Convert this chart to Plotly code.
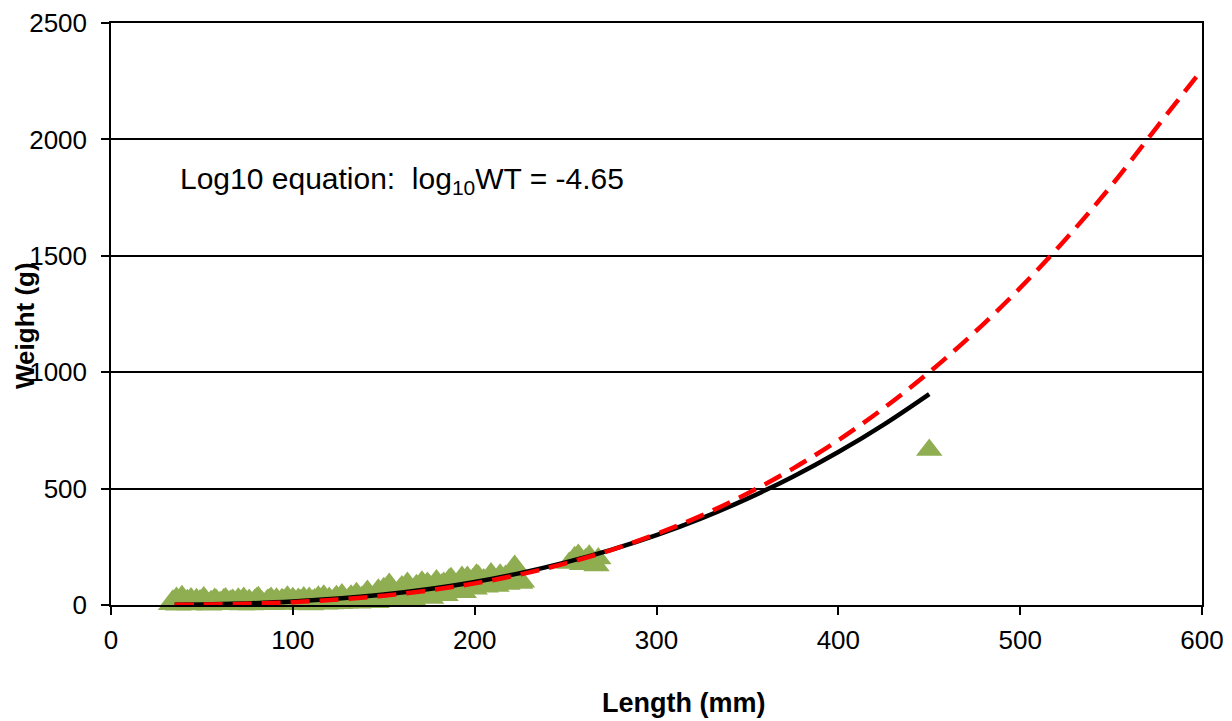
import plotly.graph_objects as go

# Observed fish (length mm, weight g)
obs_length = [33, 34, 35, 36, 37, 38, 39, 40, 41, 42, 43, 44, 45, 46, 47, 48, 49, 50, 51, 52,
              53, 54, 55, 56, 57, 58, 59, 60, 61, 62, 63, 64, 65, 66, 67, 68, 69, 70, 71, 72,
              73, 74, 75, 76, 77, 78, 79, 80, 81, 82, 83, 84, 85, 86, 87, 88, 89, 90, 91, 92,
              93, 94, 95, 96, 97, 98, 99, 100, 101, 102, 103, 104, 105, 106, 107, 108, 109, 110,
              111, 112, 113, 114, 115, 116, 117, 118, 119, 120, 121, 122, 123, 124, 125, 126,
              127, 128, 129, 130, 131, 132, 133, 134, 135, 136, 137, 138, 139, 140, 141, 142,
              143, 144, 145, 146, 147, 148, 149, 150, 151, 152, 153, 154, 155, 156, 157, 158,
              159, 160, 161, 162, 163, 164, 165, 166, 167, 168, 169, 170, 171, 172, 173, 174,
              175, 176, 177, 178, 179, 180, 181, 182, 183, 184, 185, 186, 187, 188, 189, 190,
              191, 192, 193, 194, 195, 196, 197, 198, 199, 200, 201, 202, 203, 204, 205, 206,
              207, 208, 209, 210, 211, 212, 213, 214, 215, 216, 217, 218, 219, 220, 221, 222,
              223, 224, 225, 226,
              252, 255, 257, 259, 261, 263, 265, 267, 268, 450]
obs_weight = [3, 18, 8, 30, 1, 12, 38, 5, 15, 20, 2, 28, 14, 6, 25, 4, 19, 10, 32, 22,
              8, 1, 16, 12, 26, 20, 6, 12, 4, 24, 28, 3, 14, 18, 22, 9, 6, 27, 16, 2,
              30, 15, 10, 22, 2, 6, 20, 28, 33, 11, 14, 3, 7, 20, 24, 30, 3, 8, 27, 16,
              12, 25, 20, 4, 35, 13, 6, 29, 18, 7, 26, 20, 3, 32, 14, 10, 30, 2,
              18, 24, 8, 35, 26, 12, 40, 5, 15, 30, 6, 18, 28, 38, 20, 8,
              45, 26, 10, 15, 30, 40, 18, 22, 50, 10, 25, 34, 14, 44, 60, 20,
              35, 30, 22, 12, 65, 50, 40, 72, 30, 28, 90, 45, 55, 18, 35, 58,
              70, 80, 45, 35, 95, 52, 60, 25, 40, 85, 75, 62, 100, 40, 55, 95,
              85, 30, 45, 70, 105, 50, 65, 88, 95, 42, 72, 110, 115, 75, 85, 60,
              68, 98, 120, 55, 90, 120, 75, 80, 110, 70, 130, 125, 85, 95, 110, 78,
              95, 120, 135, 105, 90, 82, 115, 130, 100, 100, 125, 90, 105, 140, 150, 168,
              120, 115, 95, 100,
              180, 205, 215, 175, 195, 212, 185, 170, 200, 666]

# Fitted curve (black, solid)
fit_length = [35, 50, 75, 100, 125, 150, 175, 200, 225, 250, 275, 300, 325, 350, 375, 400, 425, 450]
fit_weight = [0.9, 2.3, 6.9, 15, 27.6, 45, 69, 99, 137, 183, 237, 300, 373, 457, 551, 657, 775, 906]

# Log10 equation curve (red, dashed)
log_length = [35, 50, 75, 100, 125, 150, 175, 200, 225, 250, 275, 300, 325, 350, 375, 400,
              425, 450, 475, 500, 525, 550, 575, 600]
log_weight = [0.6, 1.6, 5.2, 12.2, 23.4, 40, 62.8, 93, 131, 179, 236, 305, 385, 479, 586, 708,
              846, 1000, 1172, 1362, 1571, 1800, 2051, 2300]

x_ticks = [0, 100, 200, 300, 400, 500, 600]
y_ticks = [0, 500, 1000, 1500, 2000, 2500]

FONT = "Arial, Liberation Sans, Helvetica, sans-serif"

# page body has an 8px margin; figure sized/margined so the plot area lands where the reference's does
OFF = 8
L, R, T, B = 111, 1202, 23, 605
W, H = 1232 - OFF, 721 - OFF

fig = go.Figure()
fig.add_trace(go.Scatter(
    x=obs_length, y=obs_weight, mode="markers",
    marker=dict(symbol="triangle-up", size=23, color="#8FAE52", line=dict(width=0)),
    cliponaxis=False, showlegend=False))
fig.add_trace(go.Scatter(
    x=fit_length, y=fit_weight, mode="lines", line=dict(color="#000000", width=4.5, shape="spline"),
    showlegend=False))
fig.add_trace(go.Scatter(
    x=log_length, y=log_weight, mode="lines",
    line=dict(color="#FF0000", width=4.5, dash="19px,10px", shape="spline"),
    showlegend=False))

fig.update_layout(
    width=W, height=H,
    margin=dict(l=L - OFF, r=W + OFF - R, t=T - OFF, b=H + OFF - B, pad=0, autoexpand=False),
    paper_bgcolor="white", plot_bgcolor="white",
    font=dict(family=FONT, color="#000000", size=26),
    showlegend=False,
)
fig.update_xaxes(
    range=[0, 600], tickvals=x_ticks, ticktext=[str(v) for v in x_ticks],
    showgrid=False, zeroline=False, automargin=False,
    showline=True, linecolor="#000000", linewidth=1.5, mirror=True,
    ticks="outside", ticklen=8, tickwidth=1.5, tickcolor="#000000",
    ticklabelstandoff=3, tickfont=dict(size=26, family=FONT),
)
fig.update_yaxes(
    range=[0, 2500], tickvals=y_ticks, ticktext=[str(v) for v in y_ticks],
    showgrid=True, gridcolor="#000000", gridwidth=1.5, zeroline=False, automargin=False,
    showline=True, linecolor="#000000", linewidth=1.5, mirror=True,
    ticks="outside", ticklen=8, tickwidth=1.5, tickcolor="#000000",
    ticklabelstandoff=9, tickfont=dict(size=26, family=FONT),
)

pw, ph = R - L, B - T
fig.add_annotation(
    x=36.8, y=1825, xref="x", yref="y", xanchor="left", yanchor="middle",
    text="Log10 equation:  log<sub>10</sub>WT = -4.65", showarrow=False,
    font=dict(size=30, family=FONT, color="#000000"))
fig.add_annotation(
    x=(683 - L) / pw, y=-(703 - B) / ph, xref="paper", yref="paper",
    xanchor="center", yanchor="middle", text="<b>Length (mm)</b>", showarrow=False,
    font=dict(size=27, family=FONT, color="#000000"))
fig.add_annotation(
    x=(25 - L) / pw, y=(B - 326) / ph, xref="paper", yref="paper",
    xanchor="center", yanchor="middle", text="<b>Weight (g)</b>", textangle=-90,
    showarrow=False, font=dict(size=26, family=FONT, color="#000000"))

fig.write_html("out.html")
